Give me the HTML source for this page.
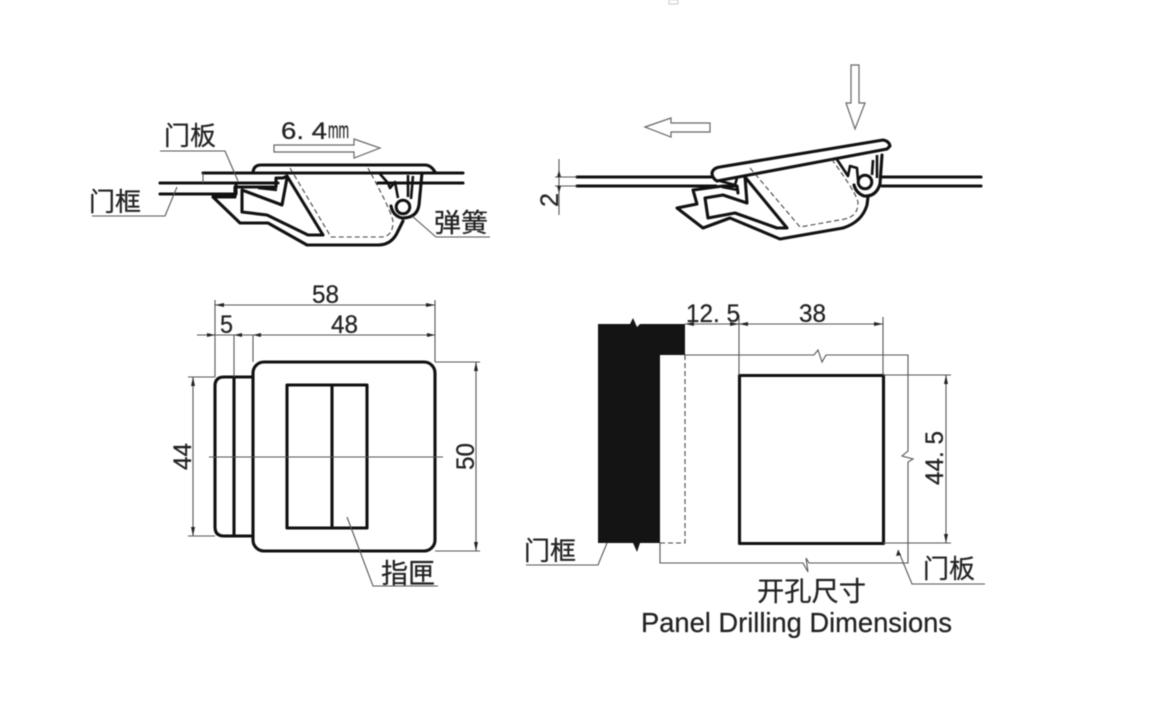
<!DOCTYPE html>
<html><head><meta charset="utf-8"><style>
html,body{margin:0;padding:0;background:#fff;width:1166px;height:720px;overflow:hidden}
svg{display:block;filter:blur(.5px)}
text{font-family:"Liberation Sans","Noto Sans CJK SC",sans-serif;fill:#222;stroke:#222;stroke-width:.25}
.t{fill:none;stroke:#111;stroke-width:3.1;stroke-linejoin:round;stroke-linecap:round}
.m{fill:none;stroke:#111;stroke-width:2.6;stroke-linejoin:round}
.n{fill:none;stroke:#555;stroke-width:1.1}
.a{fill:#fff;stroke:#666;stroke-width:1.2}
.d{fill:none;stroke:#444;stroke-width:1.1;stroke-dasharray:5 3}
.h{fill:#222}
</style></head><body>
<svg width="1166" height="720" viewBox="0 0 1166 720" xmlns="http://www.w3.org/2000/svg">
<rect x="669" y="0" width="9" height="4" fill="none" stroke="#bbb" stroke-width=".8"/>

<!-- top-left section view -->
<g>
<path class="t" d="M160 183H236M160 194H236M203 173H463M203 183H278M378 183H463M236 183V194"/>
<path class="n" d="M203 173V183"/>
<path class="a" d="M274 145H354V139L380 148L354 158V152H274Z"/>
<path class="t" d="M253 172Q254 165 261 165H425Q431 165 435 172"/>
<path class="t" d="M213 197H235V187H276V178H283L287 176L323 235H308L267 215L242 212V190L282 205L287 178"/>
<path class="m" d="M258 188L277 190"/>
<path class="t" d="M213 197L240 223H268L307 245H378Q392 245 398 231L403 221"/>
<path class="t" d="M422 173L419 205Q417 218 402 218Q393 216 391 206"/>
<path class="m" d="M380 174L388 183L390 188L395 182L398 198M408 175V197M413 176L411 199"/>
<circle cx="403" cy="207" r="6.8" fill="#fff" stroke="#111" stroke-width="3"/>
<path class="d" d="M290 168L331 237H382Q393 236 393 222Q393 214 368 168"/>
<path class="n" d="M160 151H225L238 181M92 216H165L177 187M412 216L436 237H490"/>
</g>

<!-- top-right section view -->
<g>
<path class="t" d="M577 177H712M577 186H716M882 177H981M882 186H981"/>
<path class="a" d="M851 65H859V103H865L855 129L846 103H851Z"/>
<path class="a" d="M645 127L671 118V123H710V132H671V137Z"/>
<path class="n" d="M555 177H577M555 186H577M559 159V215"/>
<path class="h" d="M559 170L557 177H561ZM559 193L557 186H561Z"/>
<path class="t" d="M712 173Q713 168 720 167L883 140Q889 141 890 146L887 149L717 181Q712 178 712 173Z" fill="#fff"/>
<path class="m" d="M720 181L735 185L737 178M722 187L738 190"/>
<path class="t" d="M693 190L723 186L737 186L738 193M693 190L697 204L677 208L703 228L730 218L780 239L843 228Q862 222 867 205L868 197"/>
<path class="t" d="M705 198L723 195L747 203L745 177L787 228H777L735 213L708 218Z"/>
<path class="t" d="M882 155L880 184Q876 197 864 196Q856 193 854 185"/>
<path class="m" d="M836 158L848 176L850 166L857 168L858 180M873 160L872 175M877 155V178"/>
<circle cx="865" cy="182" r="6.8" fill="#fff" stroke="#111" stroke-width="3"/>
<path class="d" d="M750 168L800 227L845 219Q858 216 858 203Q858 195 830 157"/>
</g>

<!-- bottom-left front view -->
<g>
<rect class="t" x="253" y="362" width="182" height="189" rx="11"/>
<path class="t" d="M253 377H224Q215 377 215 386V527Q215 536 224 536H253M234 377V536"/>
<path class="t" d="M287 385H367V528H287ZM332 385V528"/>
<path class="n" d="M209 457H443M215 300V377M435 300V362M234 335V377M253 335V362M215 305H435M197 335H435M188 377H215M188 536H215M193 377V536M435 362H480M435 551H480M476 362V551M347 517L373 586H438"/>
<path class="h" d="M215 305L224 303V307ZM435 305L426 303V307ZM215 335L207 333V337ZM234 335L242 333V337ZM253 335L261 333V337ZM435 335L427 333V337ZM193 377L191 386H195ZM193 536L191 527H195ZM476 362L474 371H478ZM476 551L474 542H478Z"/>
</g>

<!-- bottom-right drilling view -->
<g>
<path d="M598 324H630L633 318L637 327L640 324H685V355H660V543H640L637 552L633 543H598Z" fill="#141414"/>
<path class="d" d="M685 355V543H660"/>
<rect class="t" x="739.5" y="375.5" width="144" height="168" stroke-linecap="butt"/>
<path class="n" d="M685 355H814L818 350L822 362L826 355H908V451L902 456L913 459L908 462V563H809L806 558L808 572L803 563H660V543"/>
<path class="n" d="M685 324H883M739 315V375M883 317V375M883 375H951M883 543H951M946 375V543M607 543L598 565H526M898 550L912 584H985"/>
<path class="h" d="M685 324L694 322V326ZM739 324L730 322V326ZM739 324L748 322V326ZM883 324L874 322V326ZM946 375L944 384H948ZM946 543L944 534H948ZM898 550L896 556L901 555Z"/>
</g>

<!-- labels -->
<g font-size="25">
<text x="164" y="145" font-size="26" textLength="52" lengthAdjust="spacingAndGlyphs">门板</text>
<text x="89" y="211" font-size="26" textLength="52" lengthAdjust="spacingAndGlyphs">门框</text>
<text x="434" y="232" font-size="26" textLength="54" lengthAdjust="spacingAndGlyphs">弹簧</text>
<text x="281" y="139" font-size="24" textLength="46" lengthAdjust="spacingAndGlyphs">6. 4</text>
<text x="328" y="138" font-size="23" textLength="21" lengthAdjust="spacingAndGlyphs">mm</text>
<text x="312" y="303" textLength="27" lengthAdjust="spacingAndGlyphs">58</text>
<text x="331" y="333" textLength="27" lengthAdjust="spacingAndGlyphs">48</text>
<text x="220" y="333" textLength="13" lengthAdjust="spacingAndGlyphs">5</text>
<text x="381" y="583" font-size="27" textLength="54" lengthAdjust="spacingAndGlyphs">指匣</text>
<text transform="translate(191 470) rotate(-90)" textLength="27" lengthAdjust="spacingAndGlyphs">44</text>
<text transform="translate(474 470) rotate(-90)" textLength="27" lengthAdjust="spacingAndGlyphs">50</text>
<text transform="translate(558 207) rotate(-90)" textLength="14" lengthAdjust="spacingAndGlyphs">2</text>
<text x="686" y="322" textLength="54" lengthAdjust="spacingAndGlyphs">12. 5</text>
<text x="799" y="322" textLength="27" lengthAdjust="spacingAndGlyphs">38</text>
<text transform="translate(943 485) rotate(-90)" textLength="54" lengthAdjust="spacingAndGlyphs">44. 5</text>
<text x="524" y="560" font-size="26" textLength="52" lengthAdjust="spacingAndGlyphs">门框</text>
<text x="923" y="578" font-size="26" textLength="52" lengthAdjust="spacingAndGlyphs">门板</text>
<text x="757" y="601" font-size="27" textLength="109" lengthAdjust="spacingAndGlyphs">开孔尺寸</text>
<text x="641" y="632" font-size="28" textLength="311" lengthAdjust="spacingAndGlyphs">Panel Drilling Dimensions</text>
</g>
</svg>
</body></html>
